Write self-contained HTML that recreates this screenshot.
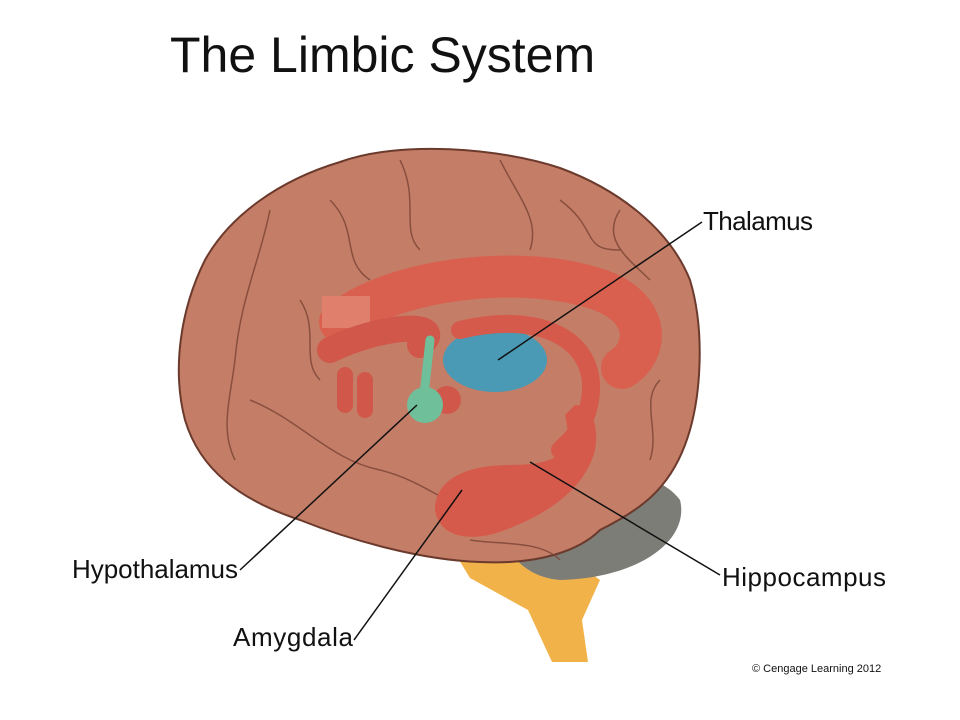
<!DOCTYPE html>
<html><head><meta charset="utf-8"><style>
html,body{margin:0;padding:0;background:#fff;}
svg{display:block}
text{font-family:"Liberation Sans",sans-serif;fill:#111}
</style></head><body>
<svg width="960" height="720" viewBox="0 0 960 720" xmlns="http://www.w3.org/2000/svg">
<rect width="960" height="720" fill="#fff"/>
<text x="170" y="72" font-size="50">The Limbic System</text>
<!-- brainstem -->
<path d="M450,545 L565,555 L600,580 L582,620 L588,662 L552,662 L528,610 L470,578 Z" fill="#f2b24a"/>
<!-- cerebellum -->
<path d="M500,500 C560,465 650,460 680,500 C690,540 640,578 560,580 C520,577 495,545 500,500 Z" fill="#7d7d78"/>
<!-- brain -->
<path d="M340,162 C400,140 500,148 560,168 C620,190 670,230 690,280 C705,330 702,400 685,445 C668,490 640,510 600,530 C580,550 540,565 480,562 C420,560 350,540 300,520 C240,500 200,470 185,420 C172,370 180,310 205,260 C230,215 280,180 340,162 Z" fill="#c47d67" stroke="#6b3a2c" stroke-width="2"/>
<g fill="none" stroke="#7a4434" stroke-width="1.5" opacity="0.8">
<path d="M270,210 C260,260 240,300 235,360 C230,400 220,430 235,460"/>
<path d="M400,160 C420,200 400,230 420,250"/>
<path d="M500,160 C520,200 540,220 530,250"/>
<path d="M620,210 C600,240 630,260 650,280"/>
<path d="M660,380 C640,400 660,430 650,460"/>
<path d="M250,400 C300,420 330,460 380,470 C420,480 440,500 470,510"/>
<path d="M300,300 C320,330 300,360 320,380"/>
<path d="M560,560 C540,540 500,545 470,540"/>
<path d="M330,200 C360,230 340,260 370,280"/>
<path d="M560,200 C600,230 580,250 620,250"/>
</g>
<!-- thalamus -->
<ellipse cx="495" cy="360" rx="52" ry="32" fill="#4a99b5"/>
<!-- red fornix arcs -->
<path d="M340,322 C390,280 520,262 600,290 C650,308 650,350 622,368" fill="none" stroke="#d9604f" stroke-width="42" stroke-linecap="round"/>
<rect x="322" y="296" width="48" height="32" fill="#e0806c"/>
<path d="M330,350 C380,325 450,320 420,345" fill="none" stroke="#d0574a" stroke-width="26" stroke-linecap="round"/>
<path d="M345,375 L345,405 M365,380 L365,410" stroke="#d0574a" stroke-width="16" stroke-linecap="round"/>
<path d="M460,330 C540,310 600,340 590,400 C585,430 570,440 560,450" fill="none" stroke="#d65a4b" stroke-width="18" stroke-linecap="round"/>
<!-- hippocampus + amygdala -->
<path d="M565,415 C575,455 555,465 510,465 C465,465 435,480 435,510 C440,540 475,542 505,530 C545,515 585,490 595,450 C600,420 588,405 575,405 Z" fill="#d65a4b"/>
<circle cx="447" cy="400" r="14" fill="#d0574a"/>
<!-- hypothalamus -->
<path d="M430,340 L424,395" stroke="#6fbf9a" stroke-width="9" stroke-linecap="round"/>
<circle cx="425" cy="405" r="18" fill="#6fbf9a"/>
<!-- leader lines -->
<g stroke="#111" stroke-width="1.5" fill="none">
<line x1="702" y1="222" x2="498" y2="360"/>
<line x1="240" y1="570" x2="417" y2="405"/>
<line x1="354" y1="640" x2="462" y2="490"/>
<line x1="720" y1="575" x2="530" y2="462"/>
</g>
<text x="703" y="230" font-size="26" textLength="110">Thalamus</text>
<text x="72" y="578" font-size="26" textLength="166">Hypothalamus</text>
<text x="233" y="646" font-size="26" textLength="120">Amygdala</text>
<text x="722" y="586" font-size="26" textLength="164">Hippocampus</text>
<text x="752" y="672" font-size="11">© Cengage Learning 2012</text>
</svg>
</body></html>
